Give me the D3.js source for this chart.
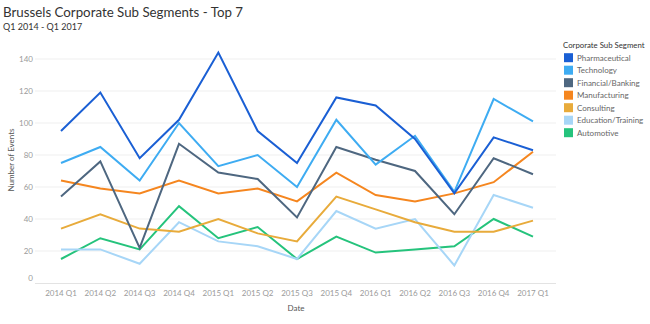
<!DOCTYPE html>
<html><head><meta charset="utf-8">
<script src="https://cdn.jsdelivr.net/npm/d3@7"></script>
<style>body{margin:0;background:#fff;}svg{display:block;font-family:Lato,"Noto Sans",sans-serif;}</style>
</head><body>
<svg id="c" width="650" height="324"></svg>
<script>
const quarters = ["2014 Q1","2014 Q2","2014 Q3","2014 Q4","2015 Q1","2015 Q2","2015 Q3","2015 Q4","2016 Q1","2016 Q2","2016 Q3","2016 Q4","2017 Q1"];
const segments = ["Pharmaceutical","Technology","Financial/Banking","Manufacturing","Consulting","Education/Training","Automotive"];
const colors = ["#1a5fd4","#3eacf2","#4e6780","#f5861f","#e8ab3b","#a7d6f7","#25c37c"];
const pharmaceutical = [95,119,78,102,144,95,75,116,111,90,56,91,83];
const technology     = [75,85,64,100,73,80,60,102,74,92,57,115,101];
const financial      = [54,76,22,87,69,65,41,85,77,70,43,78,68];
const manufacturing  = [64,59,56,64,56,59,51,69,55,51,56,63,82];
const consulting     = [34,43,34,32,40,31,26,54,46,38,32,32,39];
const education      = [21,21,12,38,26,23,15,45,34,40,11,55,47];
const automotive     = [15,28,21,48,28,35,15,29,19,21,23,40,29];
const yTicks = [0,20,40,60,80,100,120,140];
const seriesValues = [pharmaceutical,technology,financial,manufacturing,consulting,education,automotive];

const svg = d3.select("#c");
const paneL = 35, paneR = 556, paneB = 283;
const x = d3.scalePoint().domain(quarters).range([61, 533]);
const y = d3.scaleLinear().domain([0,150]).range([paneB, paneB - 1.6*150]);

svg.append("g").selectAll("line").data(yTicks.filter(d=>d>0)).join("line")
  .attr("x1", paneL).attr("x2", paneR)
  .attr("y1", d=>y(d)).attr("y2", d=>y(d))
  .attr("stroke", "#efefef").attr("stroke-width", 1);
svg.append("line").attr("x1", paneL).attr("x2", paneR).attr("y1", paneB+0.5).attr("y2", paneB+0.5)
  .attr("stroke", "#e3e3e3");

svg.append("g").selectAll("text").data(yTicks).join("text")
  .attr("x", 33).attr("y", d => d===0 ? y(d)-5 : y(d))
  .attr("dy", "0.35em").attr("text-anchor", "end")
  .attr("font-size", 8).attr("fill", "#9a9a9a").text(d=>d);

svg.append("g").selectAll("text").data(quarters).join("text")
  .attr("x", d=>x(d)).attr("y", 293).attr("dy","0.35em")
  .attr("text-anchor","middle").attr("font-size", 8).attr("fill","#9a9a9a").text(d=>d);

svg.append("text").attr("x", 296).attr("y", 308).attr("dy","0.35em").attr("text-anchor","middle")
  .attr("font-size", 8).attr("fill","#555").text("Date");
svg.append("text").attr("transform","translate(11,160) rotate(-90)").attr("dy","0.35em")
  .attr("text-anchor","middle").attr("font-size", 8).attr("fill","#555").text("Number of Events");

const line = d3.line().x((d,i)=>x(quarters[i])).y(d=>y(d));
const order = [6,5,4,3,2,1,0];
svg.append("g").selectAll("path").data(order).join("path")
  .attr("d", i=>line(seriesValues[i]))
  .attr("fill","none").attr("stroke", i=>colors[i]).attr("stroke-width", 2)
  .attr("stroke-linejoin","miter");

svg.append("text").attr("x", 3).attr("y", 17).attr("font-size", 13.3).attr("fill","#333")
  .text("Brussels Corporate Sub Segments - Top 7");
svg.append("text").attr("x", 3).attr("y", 29.5).attr("font-size", 9).attr("fill","#333")
  .text("Q1 2014 - Q1 2017");

const lg = svg.append("g");
lg.append("text").attr("x", 563).attr("y", 45).attr("dy","0.35em").attr("font-size", 7.8).attr("fill","#333")
  .text("Corporate Sub Segment");
const rows = lg.selectAll("g.r").data(segments).join("g").attr("class","r")
  .attr("transform",(d,i)=>`translate(0,${57.7 + i*12.5})`);
rows.append("rect").attr("x",564).attr("y",-4.5).attr("width",9).attr("height",9)
  .attr("fill",(d,i)=>colors[i]);
rows.append("text").attr("x",577).attr("dy","0.35em").attr("font-size",8).attr("fill","#666").text(d=>d);
</script>
</body></html>
